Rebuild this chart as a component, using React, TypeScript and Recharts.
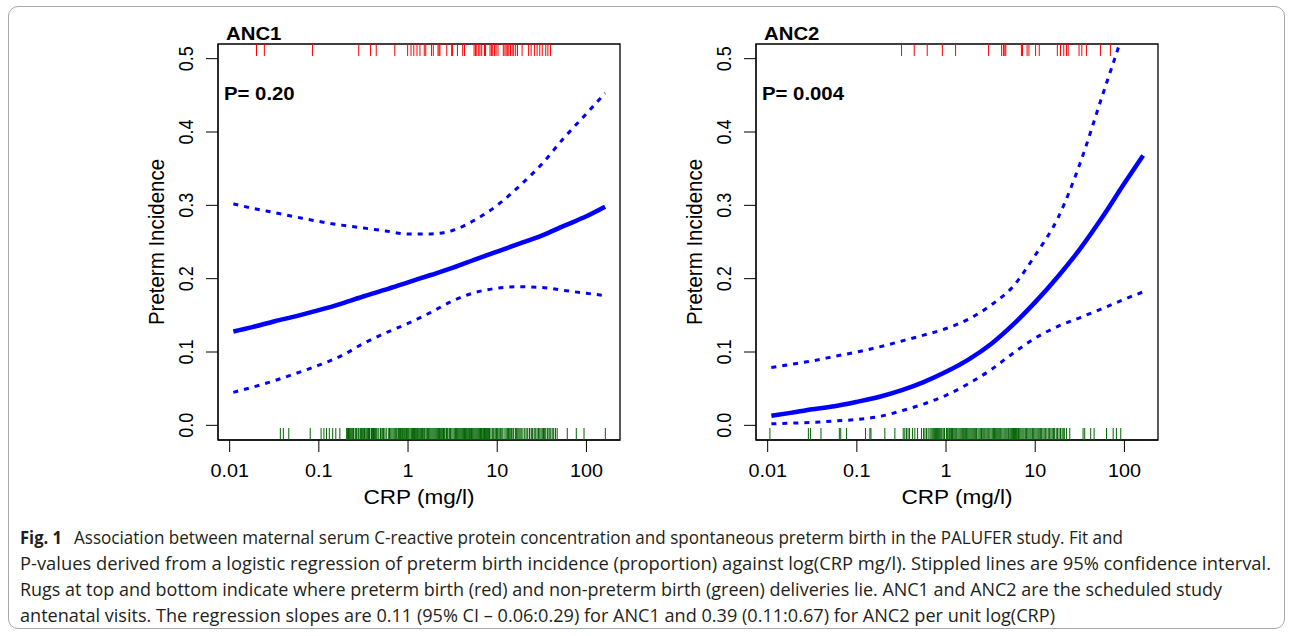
import React from 'react';
import { ComposedChart, XAxis, YAxis, Line, Scatter, ReferenceArea } from 'recharts';

const CRP_GRID = [0.011, 0.018, 0.032, 0.056, 0.1, 0.18, 0.32, 0.56, 1, 1.8, 3.2, 5.6, 10, 18, 32, 56, 100, 162];

const anc1Fit = [0.128, 0.134, 0.142, 0.149, 0.157, 0.166, 0.176, 0.185, 0.195, 0.205, 0.215, 0.226, 0.237, 0.248, 0.259, 0.272, 0.285, 0.298];
const anc1Upper = [0.302, 0.296, 0.29, 0.284, 0.278, 0.273, 0.269, 0.265, 0.261, 0.261, 0.266, 0.28, 0.3, 0.327, 0.357, 0.392, 0.425, 0.453];
const anc1Lower = [0.045, 0.052, 0.061, 0.071, 0.082, 0.095, 0.112, 0.126, 0.139, 0.154, 0.17, 0.181, 0.187, 0.189, 0.188, 0.184, 0.18, 0.177];

const anc2Fit = [0.013, 0.017, 0.022, 0.026, 0.032, 0.039, 0.048, 0.059, 0.073, 0.09, 0.111, 0.137, 0.168, 0.203, 0.241, 0.283, 0.33, 0.368];
const anc2Upper = [0.079, 0.083, 0.088, 0.094, 0.1, 0.107, 0.115, 0.123, 0.132, 0.145, 0.164, 0.189, 0.232, 0.283, 0.358, 0.448, 0.54, 0.62];
const anc2Lower = [0.002, 0.003, 0.004, 0.006, 0.008, 0.012, 0.02, 0.029, 0.041, 0.057, 0.076, 0.098, 0.119, 0.135, 0.147, 0.159, 0.172, 0.182];

// rugs: preterm (red, top) and non-preterm (green, bottom) deliveries, CRP mg/l
const anc1Preterm = [0.02, 0.0245, 0.085, 0.28, 0.38, 0.44, 0.71, 0.99, 1.08, 1.16, 1.26, 1.36, 1.52, 1.58, 1.83, 1.92, 2.17, 2.23, 2.28, 2.72, 3.08, 3.16, 3.58, 4.1, 4.3, 5.5, 5.7, 5.9, 6.2, 6.4, 6.7, 7.2, 7.4, 8.3, 8.6, 8.9, 9.3, 9.7, 10.2, 11.7, 12.2, 12.6, 13.1, 13.5, 14.1, 14.7, 15.3, 16.1, 16.9, 19, 22.5, 24, 26.1, 28, 30, 32, 35, 37, 39.6];
const anc1Term = [
  0.037, 0.04, 0.046, 0.08, 0.106, 0.114, 0.122, 0.131, 0.143, 0.155, 0.172,
  0.205, 0.21, 0.215, 0.22, 0.225, 0.23, 0.235, 0.24, 0.245, 0.255, 0.26, 0.265, 0.275, 0.28, 0.29, 0.295, 0.3, 0.31, 0.315, 0.325, 0.33, 0.34, 0.35, 0.36,
  0.37, 0.385, 0.39, 0.4, 0.41, 0.42, 0.43, 0.44, 0.45, 0.47, 0.49, 0.5, 0.52, 0.53, 0.55, 0.57, 0.6, 0.62, 0.64, 0.66, 0.68, 0.7, 0.72, 0.74,
  0.77, 0.78, 0.8, 0.82, 0.83, 0.85, 0.87, 0.88, 0.9, 0.92, 0.93, 0.96, 0.98, 1.0, 1.02, 1.05, 1.08, 1.1, 1.12, 1.15, 1.18, 1.2, 1.22, 1.25, 1.28,
  1.3, 1.33, 1.36, 1.39, 1.42, 1.45, 1.5, 1.52, 1.55, 1.6, 1.65, 1.7, 1.75, 1.8, 1.85, 1.9, 1.95, 2.0, 2.05, 2.1, 2.15, 2.2, 2.25, 2.3, 2.35, 2.4,
  2.45, 2.5, 2.55, 2.6, 2.7, 2.75, 2.8, 2.9, 2.95, 3.0, 3.1, 3.2, 3.3, 3.4, 3.5, 3.6, 3.7, 3.8, 3.9, 4.0, 4.1, 4.2, 4.3, 4.4, 4.5, 4.6, 4.7, 4.8,
  4.9, 5.0, 5.15, 5.3, 5.45, 5.6, 5.75, 5.9, 6.05, 6.2, 6.35, 6.5, 6.65, 6.8, 7.0, 7.2, 7.4, 7.6, 7.8, 8.0, 8.2, 8.5, 8.8, 9.0, 9.2, 9.5, 9.8,
  10, 10.2, 10.5, 10.8, 11, 11.3, 11.6, 12.2, 12.6, 13, 13.4, 13.8, 14.2, 14.5, 15, 15.3, 16, 16.5, 17, 17.5, 18, 18.5, 19, 20, 20.5, 21.5, 22,
  23, 24, 24.5, 25, 26, 27, 28, 29, 30, 31, 32, 33, 34, 35, 36.5, 38, 39, 40, 42, 43, 45, 47, 61, 77, 94, 163,
];
const anc2Preterm = [0.317, 0.44, 0.615, 0.91, 1.28, 3.0, 4.2, 4.4, 4.56, 4.68, 7.0, 7.2, 8.1, 8.5, 10.1, 11.1, 17.7, 19.2, 20.9, 22.4, 23.4, 31, 33.3, 37.5, 53.8, 69.7];
const anc2Term = [
  0.0106, 0.0286, 0.0303, 0.0396, 0.0636, 0.066, 0.0767, 0.125, 0.14, 0.144, 0.206, 0.267, 0.331, 0.345, 0.36, 0.375, 0.39, 0.42, 0.447, 0.48,
  0.53, 0.56, 0.58, 0.605, 0.63, 0.66, 0.68, 0.7, 0.72, 0.74, 0.76, 0.78, 0.8, 0.82, 0.84, 0.86, 0.88, 0.9, 0.93, 0.96,
  1.01, 1.03, 1.05, 1.08, 1.1, 1.13, 1.15, 1.18, 1.2, 1.23, 1.26, 1.29, 1.32, 1.36, 1.4, 1.44, 1.48, 1.52, 1.55, 1.58, 1.62, 1.66, 1.7, 1.75,
  1.8, 1.85, 1.9, 1.95, 2.0, 2.05, 2.1, 2.15, 2.2, 2.28, 2.35, 2.42, 2.5, 2.58, 2.65, 2.72, 2.8, 2.88, 2.95, 3.02, 3.1, 3.2, 3.3, 3.4, 3.5,
  3.6, 3.7, 3.8, 3.9, 4.0, 4.1, 4.22, 4.35, 4.48, 4.6, 4.72, 4.85, 5.0, 5.1, 5.25, 5.4, 5.55, 5.7, 5.85, 6.0, 6.15, 6.3, 6.5, 6.7, 6.9, 7.1,
  7.3, 7.5, 7.75, 8.0, 8.25, 8.5, 8.75, 9.0, 9.3, 9.6, 9.9, 10.2, 10.5, 10.8, 11.1, 11.5, 11.8, 12.2, 12.6, 13, 13.5, 14, 14.5, 15, 15.5, 16,
  16.5, 17.2, 17.8, 18.5, 19.2, 20, 20.6, 21.2, 22.4, 24.4, 34.4, 35.9, 41.9, 45.7, 63, 74.8, 81.3, 91,
];

const X_DOMAIN = [0.0074, 238];
const Y_DOMAIN = [-0.02, 0.52];
const X_TICKS = [0.01, 0.1, 1, 10, 100];
const Y_TICKS = [0, 0.1, 0.2, 0.3, 0.4, 0.5];

const CAPTION = [
  'Association between maternal serum C-reactive protein concentration and spontaneous preterm birth in the PALUFER study. Fit and',
  'P-values derived from a logistic regression of preterm birth incidence (proportion) against log(CRP mg/l). Stippled lines are 95% confidence interval.',
  'Rugs at top and bottom indicate where preterm birth (red) and non-preterm birth (green) deliveries lie. ANC1 and ANC2 are the scheduled study',
  'antenatal visits. The regression slopes are 0.11 (95% CI \u2013 0.06:0.29) for ANC1 and 0.39 (0.11:0.67) for ANC2 per unit log(CRP)',
];

const FONT = '"Liberation Sans", Arial, Helvetica, sans-serif';
const BLUE = '#0000ff';

const XTick = ({ x, y, payload }: any) => (
  <g transform={`translate(${x},${y + 23})`}>
    <text transform="scale(1.1,1)" textAnchor="middle" fontSize={18} fontFamily={FONT} fill="#000">
      {String(payload.value)}
    </text>
  </g>
);

const YTick = ({ x, y, payload }: any) => (
  <g transform={`translate(${x - 11},${y})`}>
    <text transform="scale(1.1,1) rotate(-90)" textAnchor="middle" fontSize={18} fontFamily={FONT} fill="#000">
      {payload.value.toFixed(1)}
    </text>
  </g>
);

const XLabel = ({ viewBox }: any) => (
  <g transform={`translate(${viewBox.x + viewBox.width / 2},${viewBox.y + 64})`}>
    <text transform="scale(1.1,1)" textAnchor="middle" fontSize={20.5} fontFamily={FONT} fill="#000">CRP (mg/l)</text>
  </g>
);

const YLabel = ({ viewBox }: any) => (
  <g transform={`translate(${viewBox.x + 164},${viewBox.y + viewBox.height / 2})`}>
    <text transform="scale(1.1,1) rotate(-90)" textAnchor="middle" fontSize={20.5} fontFamily={FONT} fill="#000">Preterm Incidence</text>
  </g>
);

const TopRug = ({ cx, cy }: any) => <line x1={cx} x2={cx} y1={cy} y2={cy + 12} stroke="#ff0000" strokeWidth={1} />;
const BottomRug = ({ cx, cy }: any) => <line x1={cx} x2={cx} y1={cy - 12} y2={cy} stroke="#006400" strokeWidth={1} />;

interface PanelProps {
  left: number;
  title: string;
  pText: string;
  fit: number[];
  upper: number[];
  lower: number[];
  preterm: number[];
  term: number[];
}

const Panel = ({ left, title, pText, fit, upper, lower, preterm, term }: PanelProps) => {
  const toSeries = (vals: number[]) => CRP_GRID.map((x, i) => ({ x, y: vals[i] }));
  const topRug = preterm.map(x => ({ x, y: Y_DOMAIN[1] }));
  const bottomRug = term.map(x => ({ x, y: Y_DOMAIN[0] }));

  return (
    <div style={{ position: 'absolute', left, top: 0, width: 640, height: 520 }}>
      <ComposedChart width={640} height={520} margin={{ top: 44, right: 20, bottom: 0, left: 0 }}>
        <XAxis
          dataKey="x"
          type="number"
          scale="log"
          domain={X_DOMAIN}
          allowDataOverflow
          ticks={X_TICKS}
          interval={0}
          tickSize={12}
          height={80}
          stroke="#000"
          tick={XTick}
          label={{ content: XLabel }}
        />
        <YAxis
          dataKey="y"
          type="number"
          domain={Y_DOMAIN}
          allowDataOverflow
          ticks={Y_TICKS}
          interval={0}
          tickSize={12}
          width={218}
          stroke="#000"
          tick={YTick}
          label={{ content: YLabel }}
        />
        <ReferenceArea x1={X_DOMAIN[0]} x2={X_DOMAIN[1]} y1={Y_DOMAIN[0]} y2={Y_DOMAIN[1]} fill="none" stroke="#000" strokeWidth={1.3} />
        <Scatter data={topRug} dataKey="y" shape={TopRug} isAnimationActive={false} />
        <Scatter data={bottomRug} dataKey="y" shape={BottomRug} isAnimationActive={false} />
        <Line data={toSeries(upper)} dataKey="y" type="monotone" stroke={BLUE} strokeWidth={3} strokeDasharray="5 6" dot={false} isAnimationActive={false} />
        <Line data={toSeries(lower)} dataKey="y" type="monotone" stroke={BLUE} strokeWidth={3} strokeDasharray="5 6" dot={false} isAnimationActive={false} />
        <Line data={toSeries(fit)} dataKey="y" type="monotone" stroke={BLUE} strokeWidth={4.5} dot={false} isAnimationActive={false} />
      </ComposedChart>
      <svg width={640} height={120} style={{ position: 'absolute', left: 0, top: 0, pointerEvents: 'none' }}>
        <g transform="translate(226,40)">
          <text transform="scale(1.1,1)" fontSize={18.5} fontWeight="bold" fontFamily={FONT} fill="#000">{title}</text>
        </g>
        <g transform="translate(224,100)">
          <text transform="scale(1.1,1)" fontSize={18.5} fontWeight="bold" fontFamily={FONT} fill="#000">{pText}</text>
        </g>
      </svg>
    </div>
  );
};

const CAPTION_WIDTHS = [1049, 1251, 1202, 1035];
const CAPTION_FONT = '"Open Sans", "Noto Sans", sans-serif';

export default function App() {
  return (
    <div style={{ position: 'absolute', left: 0, top: 0, width: 1292, height: 636, background: '#fff', overflow: 'hidden' }}>
      <div style={{ position: 'absolute', left: 8, top: 6, width: 1275, height: 621, border: '1px solid #a8a8a8', borderRadius: 10 }} />
      <Panel left={0} title="ANC1" pText="P= 0.20" fit={anc1Fit} upper={anc1Upper} lower={anc1Lower} preterm={anc1Preterm} term={anc1Term} />
      <Panel left={538} title="ANC2" pText="P= 0.004" fit={anc2Fit} upper={anc2Upper} lower={anc2Lower} preterm={anc2Preterm} term={anc2Term} />
      <svg width={1292} height={116} style={{ position: 'absolute', left: 0, top: 520 }}>
        <text x={20} y={24} fontSize={18} fontWeight="bold" fontFamily={CAPTION_FONT} fill="#231f20" textLength={42} lengthAdjust="spacingAndGlyphs">Fig. 1</text>
        {CAPTION.map((line, i) => (
          <text
            key={i}
            x={i === 0 ? 74 : 20}
            y={24 + i * 26}
            fontSize={18}
            fontFamily={CAPTION_FONT}
            fill="#231f20"
            textLength={CAPTION_WIDTHS[i]}
            lengthAdjust="spacingAndGlyphs"
          >
            {line}
          </text>
        ))}
      </svg>
    </div>
  );
}
